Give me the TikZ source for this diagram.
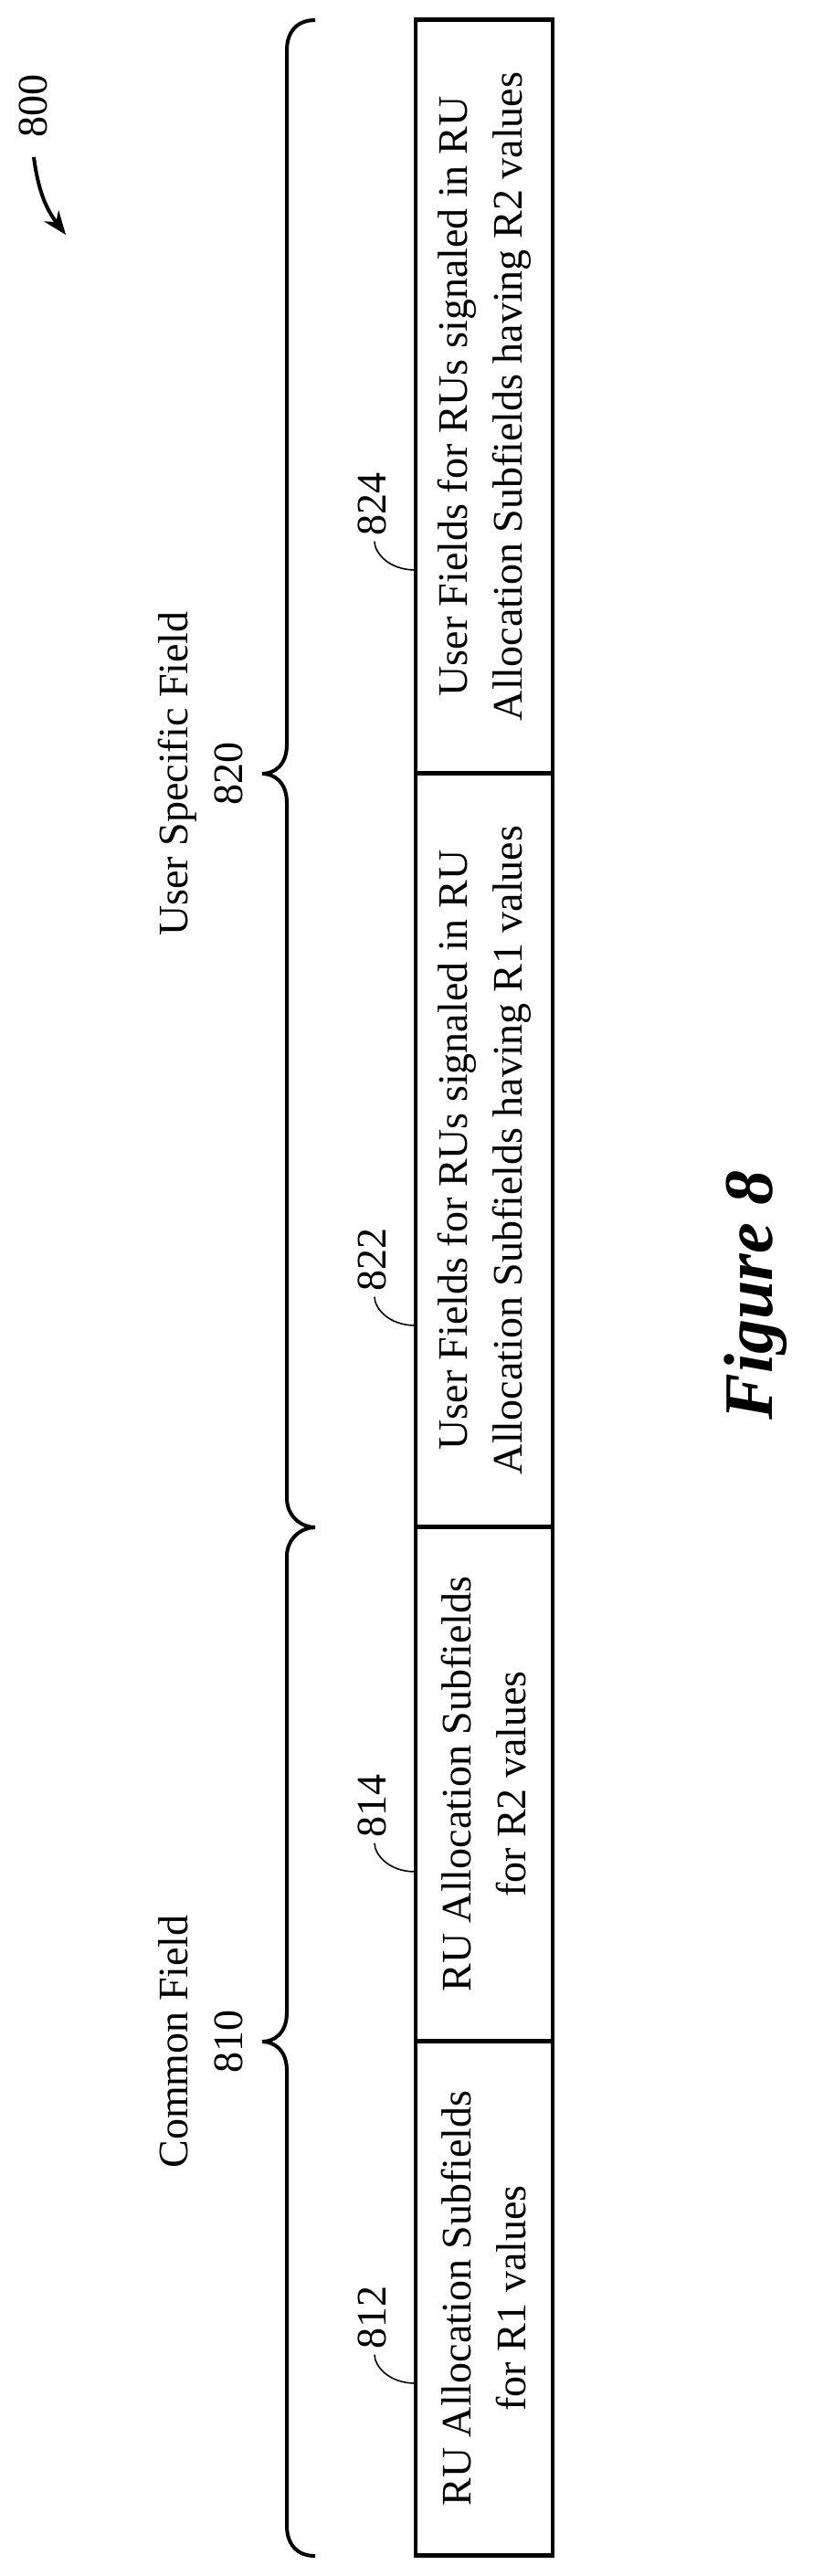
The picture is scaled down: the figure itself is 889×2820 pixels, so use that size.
\documentclass[tikz,border=0pt]{standalone}
\usepackage{fontspec}
\setmainfont{Liberation Serif}
\usetikzlibrary{arrows.meta,positioning,calc}

\begin{document}
\begin{tikzpicture}[x=1pt, y=-1pt, >={Stealth[length=26pt,width=20pt]},
	field/.style={rotate=90,align=center,font=\fontsize{46}{60}\selectfont,inner sep=0pt},
	refnum/.style={rotate=90,font=\fontsize{46}{60}\selectfont,inner sep=0pt},
	leader/.style={line width=1.6pt},
	brace/.style={line width=4pt}]
	\useasboundingbox (0,0) rectangle (889,2820);
	% boxes
	\node[draw,line width=4.5pt,minimum width=150pt,minimum height=563pt,inner sep=0pt] at (530,2516) (f812) {};
	\node[draw,line width=4.5pt,minimum width=150pt,minimum height=562pt,inner sep=0pt] at (530,1953) (f814) {};
	\node[draw,line width=4.5pt,minimum width=150pt,minimum height=825pt,inner sep=0pt] at (530,1259) (f822) {};
	\node[draw,line width=4.5pt,minimum width=150pt,minimum height=825pt,inner sep=0pt] at (530,434) (f824) {};
	\node[field] at (f812) {RU Allocation Subfields\\for R1 values};
	\node[field] at (f814) {RU Allocation Subfields\\for R2 values};
	\node[field] at (f822) {User Fields for RUs signaled in RU\\Allocation Subfields having R1 values};
	\node[field] at (f824) {User Fields for RUs signaled in RU\\Allocation Subfields having R2 values};
	% reference numerals
	\node[refnum] at (407,2537) (n812) {812};
	\node[refnum] at (407,1977) (n814) {814};
	\node[refnum] at (407,1379) (n822) {822};
	\node[refnum] at (407,552) (n824) {824};
	\coordinate (e812) at (455,2609);
	\coordinate (e814) at (455,2049);
	\coordinate (e822) at (455,1451);
	\coordinate (e824) at (455,624);
	\foreach \n in {812,814,822,824}
		\draw[leader] (e\n) .. controls +(-30,0) and +(0,12) .. ($(n\n.west)+(3,6)$);
	% braces
	\draw[brace] (345,22) .. controls (325,22) and (314,35) .. (314,55) -- (314,815)
		.. controls (314,838) and (300,847) .. (287,847) .. controls (300,847) and (314,856) .. (314,879)
		-- (314,1640) .. controls (314,1660) and (330,1672) .. (345,1672);
	\draw[brace] (345,1672) .. controls (330,1672) and (314,1684) .. (314,1704) -- (314,2203)
		.. controls (314,2226) and (300,2235) .. (287,2235) .. controls (300,2235) and (314,2244) .. (314,2267)
		-- (314,2765) .. controls (314,2785) and (325,2798) .. (345,2798);
	\node[field] at (220,2235) (common) {Common Field\\810};
	\node[field] at (220,847) (user) {User Specific Field\\820};
	% figure number
	\node[refnum] at (36,116) (n800) {800};
	\coordinate (a800) at (72,257);
	\draw[line width=4pt,->] (37,172) to[bend right=15] (a800);
	\node[rotate=90,font=\fontsize{76}{80}\selectfont\bfseries\itshape] at (827,1418) (fig) {Figure 8};
\end{tikzpicture}
\end{document}
